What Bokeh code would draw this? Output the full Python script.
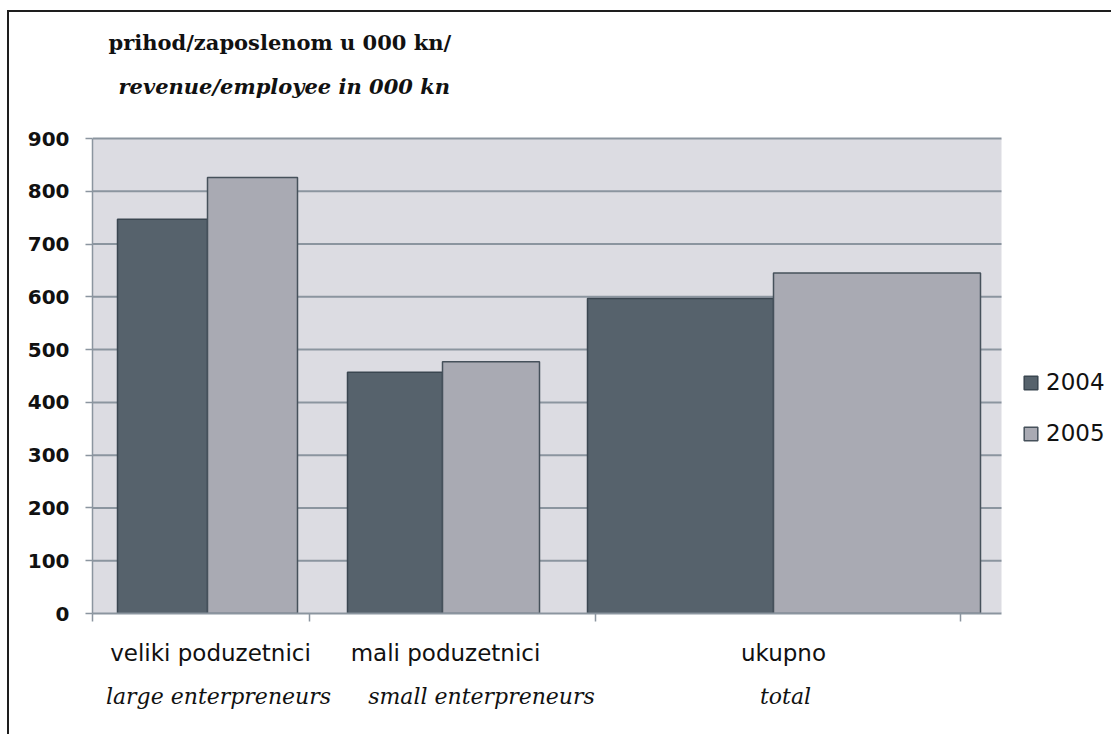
from bokeh.plotting import figure
from bokeh.models import (ColumnDataSource, Range1d, FixedTicker, Legend, LegendItem,
                          LinearAxis, Label)
from bokeh.embed import file_html
from bokeh.resources import INLINE

# ---- data ----
categories = ["veliki poduzetnici", "mali poduzetnici", "ukupno"]
categories_en = ["large enterpreneurs", "small enterpreneurs", "total"]
years = ["2004", "2005"]
values_2004 = [747, 457, 597]
values_2005 = [826, 477, 645]
y_ticks = [0, 100, 200, 300, 400, 500, 600, 700, 800, 900]
Y_MAX = 900

# ---- layout constants (x in frame pixel units) ----
W, H = 1104, 724
LEFT, BOTTOM = 83, 123          # canvas space left of / below the frame
PLOT_W, PLOT_H = 909, 475       # grey plot area size in px
bar_edges_2004 = [(25, 115), (255, 350), (495, 681)]
bar_edges_2005 = [(115, 205), (350, 447), (681, 888)]
cat_ticks = [0, 217, 503, 868]
label_x_top = [118, 353, 691]
label_x_bottom = [126, 389, 693]

DARK = "#56626C"
LIGHT = "#A9AAB3"
BG = "#DCDCE2"
GRID = "#8B959F"
INK = "#111111"

frame_w = W - LEFT
frame_h = H - BOTTOM
p = figure(width=W, height=H, output_backend="svg", toolbar_location=None,
           x_range=Range1d(0, frame_w),
           y_range=Range1d(0, Y_MAX * frame_h / PLOT_H),
           min_border_left=LEFT, min_border_right=0, min_border_top=0,
           min_border_bottom=BOTTOM)
p.styles = {"border-left": "2px solid #1e1e1e", "border-top": "2px solid #1e1e1e",
            "margin-left": "7px", "margin-top": "10px"}
p.background_fill_color = "white"
p.border_fill_color = "white"
p.outline_line_color = None

# grey plot area and horizontal gridlines
p.quad(left=0, right=PLOT_W, bottom=0, top=Y_MAX, fill_color=BG, line_color=None)
p.segment(x0=[0] * len(y_ticks[1:]), x1=[PLOT_W] * len(y_ticks[1:]),
          y0=y_ticks[1:], y1=y_ticks[1:], line_color=GRID, line_width=2)


def src(edges, vals):
    return ColumnDataSource(dict(
        x=[(a + b) / 2 for a, b in edges],
        w=[b - a for a, b in edges],
        top=vals))


r1 = p.vbar(x="x", width="w", top="top", bottom=0, source=src(bar_edges_2004, values_2004),
            fill_color=DARK, line_color="#3A4650", line_width=1.5)
r2 = p.vbar(x="x", width="w", top="top", bottom=0, source=src(bar_edges_2005, values_2005),
            fill_color=LIGHT, line_color="#46515B", line_width=1.5)

p.xgrid.grid_line_color = None
p.ygrid.grid_line_color = None

# y axis
p.yaxis.bounds = (0, Y_MAX)
p.yaxis.ticker = FixedTicker(ticks=y_ticks)
p.yaxis.minor_tick_line_color = None
p.yaxis.major_tick_out = 7
p.yaxis.major_tick_in = 0
p.yaxis.major_tick_line_color = GRID
p.yaxis.major_tick_line_width = 1.5
p.yaxis.axis_line_color = GRID
p.yaxis.axis_line_width = 1.5
p.yaxis.major_label_standoff = 16
p.yaxis.major_label_text_font = "DejaVu Sans"
p.yaxis.major_label_text_font_style = "bold"
p.yaxis.major_label_text_font_size = "20px"
p.yaxis.major_label_text_color = INK

# x axis (category separators only)
p.xaxis.bounds = (0, PLOT_W)
p.xaxis.ticker = FixedTicker(ticks=cat_ticks)
p.xaxis.major_label_overrides = {t: "" for t in cat_ticks}
p.xaxis.major_label_text_font_size = "0px"
p.xaxis.major_label_standoff = 0
p.xaxis.minor_tick_line_color = None
p.xaxis.major_tick_out = 8
p.xaxis.major_tick_in = 0
p.xaxis.major_tick_line_color = GRID
p.xaxis.major_tick_line_width = 1.5
p.xaxis.axis_line_color = GRID
p.xaxis.axis_line_width = 2

# category label axes
ax_hr = LinearAxis(ticker=FixedTicker(ticks=label_x_top),
                   major_label_overrides={x: t for x, t in zip(label_x_top, categories)},
                   axis_line_color=None, major_tick_line_color=None,
                   minor_tick_line_color=None, major_tick_out=0, major_tick_in=0,
                   major_label_standoff=18, major_label_text_font="DejaVu Sans",
                   major_label_text_font_size="23px", major_label_text_color=INK)
ax_en = LinearAxis(ticker=FixedTicker(ticks=label_x_bottom),
                   major_label_overrides={x: t for x, t in zip(label_x_bottom, categories_en)},
                   axis_line_color=None, major_tick_line_color=None,
                   minor_tick_line_color=None, major_tick_out=0, major_tick_in=0,
                   major_label_standoff=15, major_label_text_font="DejaVu Serif",
                   major_label_text_font_style="italic",
                   major_label_text_font_size="22px", major_label_text_color=INK)
p.add_layout(ax_hr, "below")
p.add_layout(ax_en, "below")

# titles (y in screen px above the plot's zero line)
p.add_layout(Label(x=16, y=571, y_units="screen", text="prihod/zaposlenom u 000 kn/",
                   text_align="left", text_baseline="alphabetic", text_font="DejaVu Serif",
                   text_font_style="bold", text_font_size="21px", text_color=INK))
p.add_layout(Label(x=26, y=527, y_units="screen", text="revenue/employee in 000 kn",
                   text_align="left", text_baseline="alphabetic", text_font="DejaVu Serif",
                   text_font_style="bold italic", text_font_size="21px", text_color=INK))

legend = Legend(items=[LegendItem(label=years[0], renderers=[r1]),
                       LegendItem(label=years[1], renderers=[r2])],
                location=(930, 167), padding=0, margin=0, border_line_color=None,
                background_fill_alpha=0, glyph_width=17, glyph_height=17,
                label_standoff=7, label_height=26, spacing=25,
                label_text_font="DejaVu Sans", label_text_font_size="23px",
                label_text_color=INK)
p.add_layout(legend)

open("out.html", "w").write(file_html(p, INLINE))
